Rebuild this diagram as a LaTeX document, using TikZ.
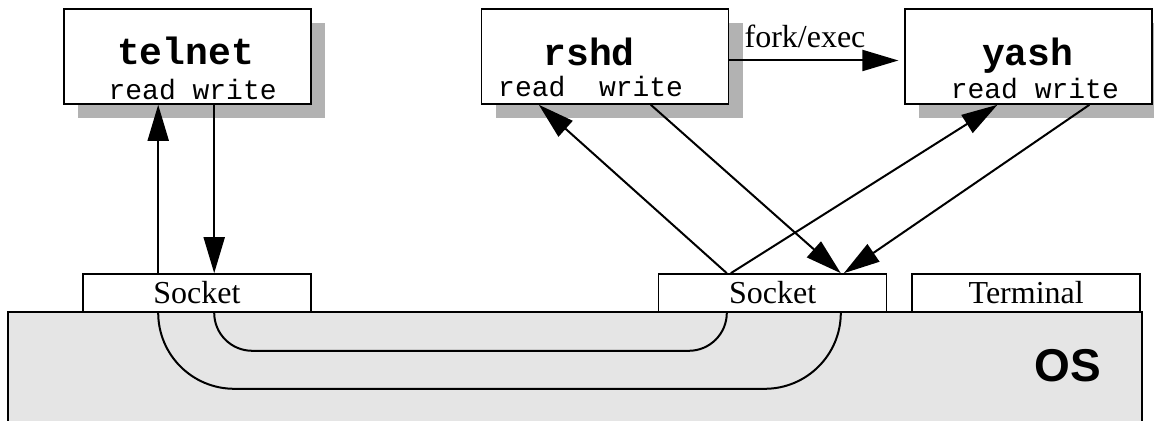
\documentclass[tikz,border=0pt]{standalone}
\usepackage{fontspec}
\setmainfont{Liberation Serif}
\setmonofont{Liberation Mono}
\newfontfamily\ossans{Liberation Sans}
\usetikzlibrary{calc,positioning,shadows,arrows.meta}

\tikzset{
  proc/.style={rectangle,draw=black,fill=white,line width=0.8pt,minimum width=123.5pt,minimum height=47.5pt,inner sep=0pt,
    drop shadow={shadow xshift=7pt,shadow yshift=-7pt,fill=black!30,opacity=1}},
  port/.style={rectangle,draw=black,fill=white,line width=0.8pt,minimum width=114pt,minimum height=19pt,inner sep=0pt,
    font=\fontsize{16}{16}\selectfont},
  pname/.style={anchor=base,inner sep=0pt,font=\fontsize{19}{19}\selectfont\ttfamily\bfseries},
  rw/.style={anchor=base west,inner sep=0pt,font=\fontsize{14}{14}\selectfont\ttfamily},
  arr/.style={line width=1pt,-{Triangle[length=18pt,width=10.5pt]}},
  pipe/.style={line width=1pt},
}

\begin{document}
\begin{tikzpicture}[x=0.5pt,y=-0.5pt]
	\useasboundingbox (0,0) rectangle (1154,421);
	% kernel
	\fill[black!10] (8,312) rectangle (1142,421);
	\draw[line width=0.8pt] (8,421) -- (8,312) -- (1142,312) -- (1142,421);
	\node[font=\fontsize{23}{23}\selectfont\ossans\bfseries] (os) at (1068,366) {OS};

	% processes
	\node[proc] (telnet) at (187.5,56.5) {};
	\node[proc,right=84.5pt of telnet] (rshd) {};
	\node[proc,right=87.5pt of rshd] (yash) {};
	\node[pname] (telnetname) at ($(telnet.north)+(-2,56)$) {telnet};
	\node[pname] (rshdname) at ($(rshd.north)+(-16,57)$) {rshd};
	\node[pname] (yashname) at ($(yash.north)+(-1,57)$) {yash};
	\node[rw] (telnetrw) at ($(telnet.south west)+(45,-5)$) {read write};
	\node[rw] (rshdrw) at ($(rshd.south west)+(17,-8)$) {read\ \ write};
	\node[rw] (yashrw) at ($(yash.south west)+(46,-6)$) {read write};

	% sockets and terminal
	\node[port] (sock1) at (197,293) {Socket};
	\node[port,right=173pt of sock1] (sock2) {Socket};
	\node[port,right=12pt of sock2] (term) {Terminal};

	\coordinate (s1rd) at ($(sock1.north west)+(76,0)$);
	\coordinate (s1wr) at ($(sock1.north west)+(132,0)$);
	\coordinate (s2rd) at ($(sock2.north west)+(69,0)$);
	\coordinate (s2wr) at ($(sock2.north west)+(183,0)$);

	% connection inside the kernel
	\draw[pipe,rounded corners=38pt] (s1rd |- sock1.south) -- ++(0,76) -| (s2wr |- sock2.south);
	\draw[pipe,rounded corners=19pt] (s1wr |- sock1.south) -- ++(0,38) -| (s2rd |- sock2.south);

	% data flow
	\draw[arr] (s1rd) -- (s1rd |- telnet.south);
	\draw[arr] (s1wr |- telnet.south) -- (s1wr);
	\draw[arr] (s2rd) -- ($(rshd.south west)+(58,0)$);
	\draw[arr] ($(rshd.south west)+(170,0)$) -- (s2wr);
	\draw[arr] ($(s2rd)+(4,0)$) -- ($(yash.south west)+(93,0)$);
	\draw[arr] ($(yash.south west)+(185,0)$) -- ($(s2wr)+(3,0)$);

	\draw[arr,shorten >=3pt] ([yshift=-2pt]rshd.east) -- ([yshift=-2pt]yash.west);
	\node[anchor=base] (fork) at (805,48) {\fontsize{16}{16}\selectfont fork/exec};
\end{tikzpicture}
\end{document}
